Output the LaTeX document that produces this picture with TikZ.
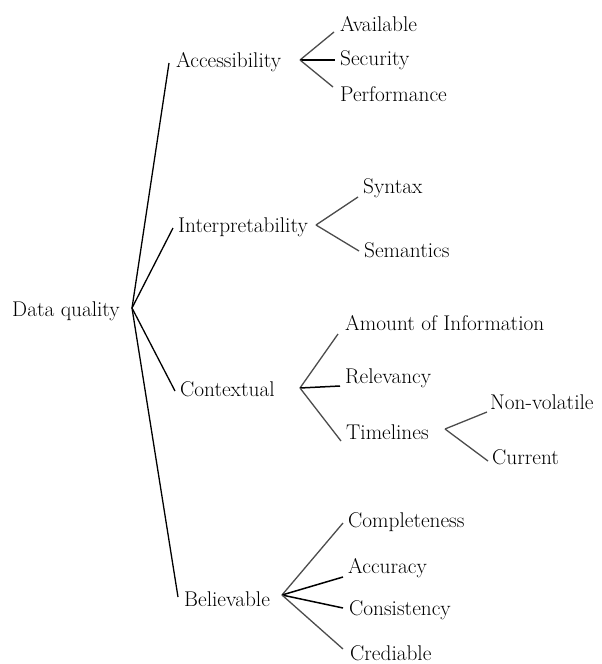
\documentclass[tikz,border=0pt]{standalone}
\usetikzlibrary{calc}
\begin{document}
\begin{tikzpicture}[x=1pt,y=-1pt,
  lbl/.style={anchor=west,inner sep=0pt,font=\fontsize{21.3}{24}\selectfont},
  mainline/.style={draw=black,line width=1.3pt},
  subline/.style={draw=black!70,line width=1.3pt},
  darkline/.style={draw=black,line width=1.5pt}]
\useasboundingbox (0,0) rectangle (602,664);
% level 0
\node[lbl] (dq) at (12,311) {Data quality};
\coordinate (dqF) at (132,308);
% level 1
\node[lbl] (acc) at (176,62) {Accessibility};
\node[lbl] (int) at (178,227) {Interpretability};
\node[lbl] (ctx) at (180,389) {Contextual};
\node[lbl] (bel) at (184,599) {Believable};
\draw[mainline] (dqF) -- ($(acc.west)+(-7,1)$);
\draw[mainline] (dqF) -- ($(int.west)+(-5,1)$);
\draw[mainline] (dqF) -- ($(ctx.west)+(-5,2)$);
\draw[mainline] (dqF) -- ($(bel.west)+(-6,-2)$);
% accessibility
\coordinate (accF) at (300,60);
\node[lbl] (avail) at (340,24) {Available};
\node[lbl] (sec) at (340,60) {Security};
\node[lbl] (perf) at (340,94) {Performance};
\draw[subline] (accF) -- ($(avail.west)+(-6,8)$);
\draw[darkline] (accF) -- ($(sec.west)+(-5,0)$);
\draw[subline] (accF) -- ($(perf.west)+(-7,-7)$);
% interpretability
\coordinate (intF) at (316,225);
\node[lbl] (syn) at (363,188) {Syntax};
\node[lbl] (sem) at (364,250) {Semantics};
\draw[subline] (intF) -- ($(syn.west)+(-5,9)$);
\draw[subline] (intF) -- ($(sem.west)+(-5,1)$);
% contextual
\coordinate (ctxF) at (300,388);
\node[lbl] (amt) at (345,323) {Amount of Information};
\node[lbl] (rel) at (345,378) {Relevancy};
\node[lbl] (tim) at (346,432) {Timelines};
\draw[subline] (ctxF) -- ($(amt.west)+(-7,11)$);
\draw[darkline] (ctxF) -- ($(rel.west)+(-5,8)$);
\draw[subline] (ctxF) -- ($(tim.west)+(-5,9)$);
% timelines
\coordinate (timF) at (445,429);
\node[lbl] (nonv) at (490,402) {Non-volatile};
\node[lbl] (cur) at (492,457) {Current};
\draw[subline] (timF) -- ($(nonv.west)+(-3,10)$);
\draw[subline] (timF) -- ($(cur.west)+(-4,4)$);
% believable
\coordinate (belF) at (282,595);
\node[lbl] (comp) at (348,522) {Completeness};
\node[lbl] (accu) at (348,568) {Accuracy};
\node[lbl] (cons) at (349,610) {Consistency};
\node[lbl] (cred) at (350,653) {Crediable};
\draw[subline] (belF) -- ($(comp.west)+(-5,1)$);
\draw[darkline] (belF) -- ($(accu.west)+(-5,9)$);
\draw[darkline] (belF) -- ($(cons.west)+(-6,-2)$);
\draw[subline] (belF) -- ($(cred.west)+(-7,-4)$);
\end{tikzpicture}
\end{document}
